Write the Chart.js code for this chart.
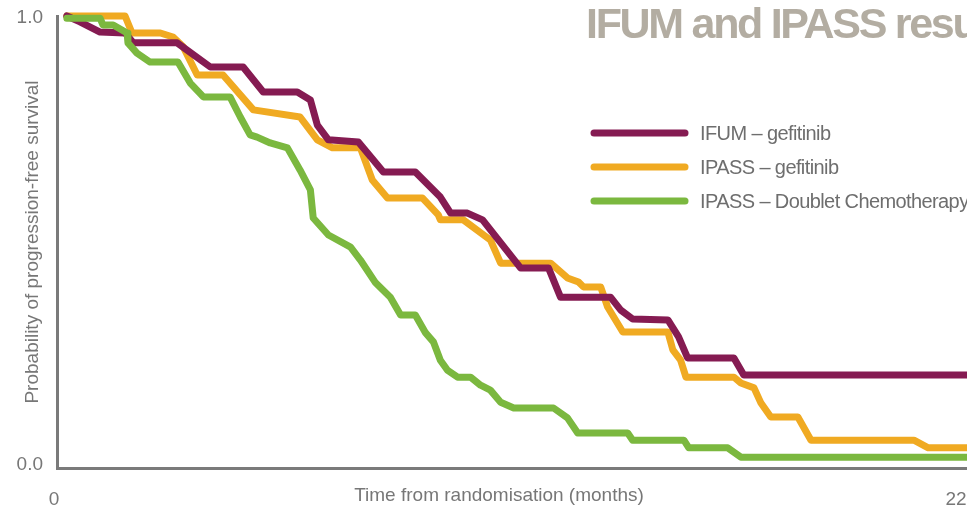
<!DOCTYPE html>
<html>
<head>
<meta charset="utf-8">
<script src="https://cdn.jsdelivr.net/npm/chart.js@4"></script>
<style>
  html, body { margin: 0; padding: 0; background: #fff; overflow: hidden; }
  #wrap { position: relative; width: 1000px; height: 507px; }
</style>
</head>
<body>
<div id="wrap"><canvas id="chart"></canvas></div>
<script>
// Kaplan-Meier style curves (months, probability)
const ifumMonths = [0.24, 0.56, 1.05, 1.66, 1.86, 2.93, 3.74, 4.54, 5.03, 5.86, 6.18, 6.35, 6.62, 7.35, 7.96, 8.74, 9.35, 9.60, 10.01, 10.38, 11.31, 11.99, 12.28, 13.50, 13.75, 14.04, 14.90, 15.16, 15.38, 16.51, 16.75, 23];
const ifumPfs = [1.0, 0.987, 0.964, 0.962, 0.94, 0.94, 0.886, 0.886, 0.83, 0.83, 0.812, 0.756, 0.723, 0.718, 0.651, 0.651, 0.595, 0.559, 0.559, 0.544, 0.436, 0.436, 0.371, 0.371, 0.342, 0.322, 0.32, 0.282, 0.235, 0.235, 0.197, 0.197];

const gefMonths = [0.24, 1.66, 1.83, 2.52, 2.83, 3.08, 3.42, 4.05, 4.79, 5.93, 6.35, 6.72, 7.40, 7.69, 8.06, 8.91, 9.30, 9.35, 9.91, 10.57, 10.82, 12.04, 12.45, 12.72, 12.84, 13.26, 13.43, 13.80, 14.90, 15.02, 15.21, 15.34, 16.51, 16.68, 17.00, 17.17, 17.41, 18.07, 18.39, 20.90, 21.25, 23];
const gefPfs = [1.0, 1.0, 0.962, 0.962, 0.953, 0.931, 0.868, 0.868, 0.79, 0.774, 0.723, 0.705, 0.705, 0.633, 0.593, 0.593, 0.555, 0.544, 0.544, 0.499, 0.447, 0.447, 0.414, 0.405, 0.394, 0.394, 0.349, 0.293, 0.293, 0.253, 0.23, 0.192, 0.192, 0.179, 0.168, 0.134, 0.103, 0.103, 0.051, 0.051, 0.034, 0.034];

const chemoMonths = [0.24, 1.05, 1.12, 1.37, 1.71, 1.73, 1.95, 2.27, 2.95, 3.25, 3.57, 4.22, 4.47, 4.71, 4.88, 5.20, 5.62, 5.93, 6.18, 6.25, 6.62, 7.16, 7.40, 7.77, 8.13, 8.38, 8.74, 8.99, 9.18, 9.35, 9.52, 9.77, 10.09, 10.33, 10.57, 10.82, 11.14, 12.11, 12.45, 12.70, 13.92, 14.04, 15.29, 15.41, 16.36, 16.68, 23];
const chemoPfs = [0.995, 0.995, 0.98, 0.98, 0.962, 0.94, 0.917, 0.897, 0.897, 0.85, 0.819, 0.819, 0.774, 0.734, 0.729, 0.716, 0.705, 0.655, 0.611, 0.548, 0.51, 0.483, 0.454, 0.403, 0.371, 0.331, 0.331, 0.291, 0.271, 0.23, 0.208, 0.192, 0.192, 0.174, 0.163, 0.136, 0.123, 0.123, 0.101, 0.067, 0.067, 0.051, 0.051, 0.034, 0.034, 0.013, 0.013];

const seriesLabels = ['IFUM – gefitinib', 'IPASS – gefitinib', 'IPASS – Doublet Chemotherapy'];
const seriesColors = ['#851b52', '#f0aa22', '#7bb83f'];
const xTickValues = [0, 22];
const yTickValues = [0, 1];
const chartTitle = 'IFUM and IPASS results';
const xAxisTitle = 'Time from randomisation (months)';

const axisGrey = '#7a7a7a';
const textGrey = '#777777';
const fontFamily = '"Liberation Sans", Arial, sans-serif';

function toPoints(xs, ys) {
    return xs.map((x, i) => ({ x: x, y: ys[i] }));
}

// title, legend and x title are placed off the usual spots, so draw them by hand
const overlayPlugin = {
    id: 'overlay',
    afterDraw(chart) {
        const ctx = chart.ctx;
        ctx.save();
        ctx.letterSpacing = '-2.3px';
        ctx.font = 'bold 43px ' + fontFamily;
        ctx.fillStyle = '#b3ada2';
        ctx.textBaseline = 'alphabetic';
        ctx.fillText(chartTitle, 586, 38);

        ctx.letterSpacing = '-0.6px';
        ctx.font = '20px ' + fontFamily;
        ctx.lineCap = 'round';
        ctx.lineWidth = 7;
        chart.data.datasets.forEach((ds, i) => {
            const y = 133 + i * 34;
            ctx.strokeStyle = ds.borderColor;
            ctx.beginPath();
            ctx.moveTo(594, y);
            ctx.lineTo(685, y);
            ctx.stroke();
            ctx.fillStyle = '#6e6e6e';
            ctx.textBaseline = 'middle';
            ctx.fillText(ds.label, 700, y + 1);
        });

        ctx.letterSpacing = '0px';
        ctx.font = '19px ' + fontFamily;
        ctx.fillStyle = textGrey;
        ctx.textAlign = 'center';
        ctx.textBaseline = 'middle';
        ctx.fillText(xAxisTitle, 499, 496);
        ctx.restore();
    }
};

const datasets = [
    { label: seriesLabels[0], data: toPoints(ifumMonths, ifumPfs), borderColor: seriesColors[0], order: 1 },
    { label: seriesLabels[1], data: toPoints(gefMonths, gefPfs), borderColor: seriesColors[1], order: 2 },
    { label: seriesLabels[2], data: toPoints(chemoMonths, chemoPfs), borderColor: seriesColors[2], order: 0 }
].map(ds => Object.assign(ds, {
    borderWidth: 7,
    borderJoinStyle: 'round',
    borderCapStyle: 'round',
    pointRadius: 0,
    tension: 0,
    fill: false,
    clip: false
}));

new Chart(document.getElementById('chart').getContext('2d'), {
    type: 'scatter',
    data: { datasets: datasets },
    options: {
        responsive: true,
        maintainAspectRatio: false,
        animation: false,
        showLine: true,
        layout: { padding: { top: 16, left: 0, right: 0, bottom: 0 } },
        plugins: {
            legend: { display: false },
            tooltip: { enabled: false }
        },
        scales: {
            x: {
                type: 'linear',
                min: 0,
                max: 23,
                afterBuildTicks: s => { s.ticks = xTickValues.map(v => ({ value: v })); },
                afterFit: s => { s.height = 39; },
                grid: { display: false, drawTicks: false },
                border: { display: true, color: axisGrey, width: 3 },
                ticks: {
                    color: textGrey,
                    font: { family: fontFamily, size: 19 },
                    padding: 20,
                    labelOffset: -3,
                    maxRotation: 0,
                    autoSkip: false,
                    callback: v => String(v)
                }
            },
            y: {
                type: 'linear',
                min: -0.0112,
                max: 1.0,
                afterBuildTicks: s => { s.ticks = yTickValues.map(v => ({ value: v })); },
                afterFit: s => {
                    s.width = 57;
                    // labels may hang over the plot edges, keep the plot top where the picture has it
                    s.paddingTop = 0;
                    s.paddingBottom = 0;
                },
                grid: { display: false, drawTicks: false },
                border: { display: true, color: axisGrey, width: 3 },
                ticks: {
                    color: textGrey,
                    font: { family: fontFamily, size: 19 },
                    padding: 14,
                    labelOffset: 2,
                    callback: v => v.toFixed(1)
                },
                title: {
                    display: true,
                    text: 'Probability of progression-free survival',
                    color: textGrey,
                    font: { family: fontFamily, size: 19 },
                    padding: { top: 21, bottom: 0 }
                }
            }
        }
    },
    plugins: [overlayPlugin]
});
</script>
</body>
</html>
